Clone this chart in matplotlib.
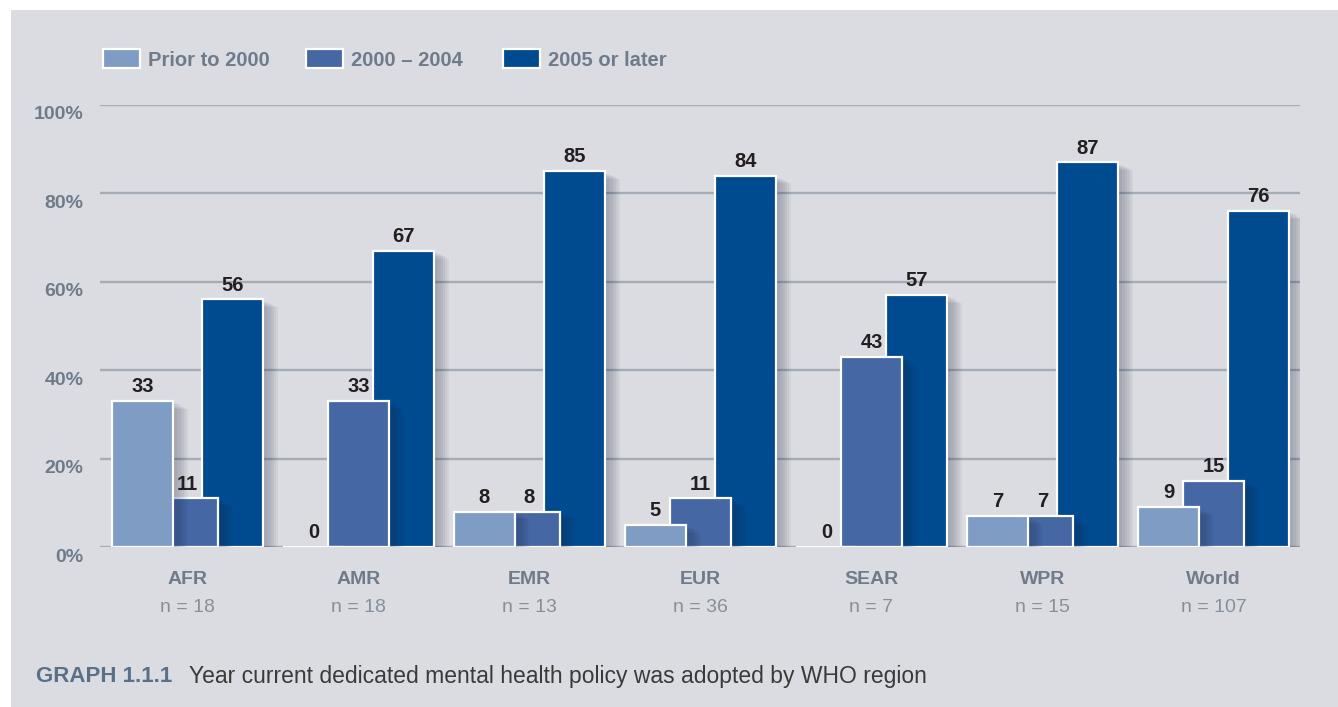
import numpy as np
import matplotlib.pyplot as plt
import matplotlib.transforms as mtransforms
from matplotlib.patches import Rectangle

# data
regions = ['AFR', 'AMR', 'EMR', 'EUR', 'SEAR', 'WPR', 'World']
n_counts = [18, 18, 13, 36, 7, 15, 107]
series_names = ['Prior to 2000', '2000 \u2013 2004', '2005 or later']
prior_2000 = [33, 0, 8, 5, 0, 7, 9]
y2000_2004 = [11, 33, 8, 11, 43, 7, 15]
y2005_later = [56, 67, 85, 84, 57, 87, 76]
y_ticks = [0, 20, 40, 60, 80, 100]

colors = ['#7f9cc5', '#4568a5', '#004a90']
bg = '#dbdce1'
grey_txt = '#6f7b8a'
val_txt = '#231f20'

W, H = 1338, 707
plt.rcParams['font.family'] = ['Liberation Sans', 'DejaVu Sans']

fig = plt.figure(figsize=(W / 100, H / 100), dpi=100, facecolor='white')
# grey panel (white strip on top and left)
fig.add_artist(Rectangle((11 / W, 0), 1, 1 - 10 / H, transform=fig.transFigure,
                         facecolor=bg, edgecolor='none', zorder=0))

def fx(px):
    return px / W

def fy(py):
    return 1 - py / H

# axes: x from 100 to 1300 px, y 0% at 547 px, 100% at 105 px
y0, y100 = 547, 105
ax = fig.add_axes([fx(100), fy(y0), (1300 - 100) / W, (y0 - y100) / H])
ax.set_facecolor('none')
ax.set_ylim(0, 100)
x = np.arange(len(regions))
ax.set_xlim((100 - 187.5) / 171, (1300 - 187.5) / 171)

width = 61 / 171
step = 45 / 171
series = [prior_2000, y2000_2004, y2005_later]
px_unit = 1 / 171  # one pixel in x data units

# draw back to front: dark, medium, light
for j in [2, 1, 0]:
    vals = np.array(series[j])
    xs = x + (j - 1) * step
    z = 3 + (2 - j) * 2
    # soft shadow
    for k in range(1, 8):
        ax.bar(xs + 2.2 * k * px_unit, np.maximum(vals - 0.25 * k, 0), width=width,
               color='#1a2540', alpha=0.05, linewidth=0, zorder=z - 0.5)
    ax.bar(xs, vals, width=width, color=colors[j], edgecolor='white',
           linewidth=1.6, zorder=z)
    for xi, v in zip(xs, vals):
        ax.text(xi, v + 1.1, str(v), ha='center', va='bottom', fontsize=14.5,
                fontweight='bold', color=val_txt, zorder=10)

# grid and ticks
ax.set_yticks(y_ticks)
ax.set_yticklabels([f'{t}%' for t in y_ticks])
ax.yaxis.grid(True, color='#a4acb7', linewidth=1.7)
ax.set_axisbelow(True)
ax.tick_params(axis='y', length=0, pad=12, labelsize=14, labelcolor=grey_txt)
shift = mtransforms.ScaledTranslation(0, -8 / 100, fig.dpi_scale_trans)
for lab in ax.get_yticklabels():
    lab.set_fontweight('bold')
    lab.set_transform(lab.get_transform() + shift)
ax.set_xticks([])
for s in ax.spines.values():
    s.set_visible(False)

# category labels
trans = ax.get_xaxis_transform()
span = y0 - y100
for xi, name, n in zip(x, regions, n_counts):
    ax.text(xi, -33 / span, name, transform=trans, ha='center', va='center',
            fontsize=14, fontweight='bold', color=grey_txt)
    ax.text(xi, -60 / span, f'n = {n}', transform=trans, ha='center', va='center',
            fontsize=14, color='#86909c')

# legend
leg_x = [103, 306, 503]
for lx, name, c in zip(leg_x, series_names, colors):
    fig.add_artist(Rectangle((fx(lx), fy(68)), 37 / W, 19 / H, transform=fig.transFigure,
                             facecolor=c, edgecolor='white', linewidth=1.6, zorder=5))
    fig.text(fx(lx + 45), fy(60), name, ha='left', va='center', fontsize=14.5,
             fontweight='bold', color=grey_txt)

# caption
fig.text(fx(36), fy(676), 'GRAPH 1.1.1', ha='left', va='center', fontsize=16,
         fontweight='bold', color='#5a6f88')
fig.text(fx(189), fy(676), 'Year current dedicated mental health policy was adopted by WHO region',
         ha='left', va='center', fontsize=16.5, color='#3a3a3a')

fig.savefig('out.png', dpi=100, facecolor='white')
